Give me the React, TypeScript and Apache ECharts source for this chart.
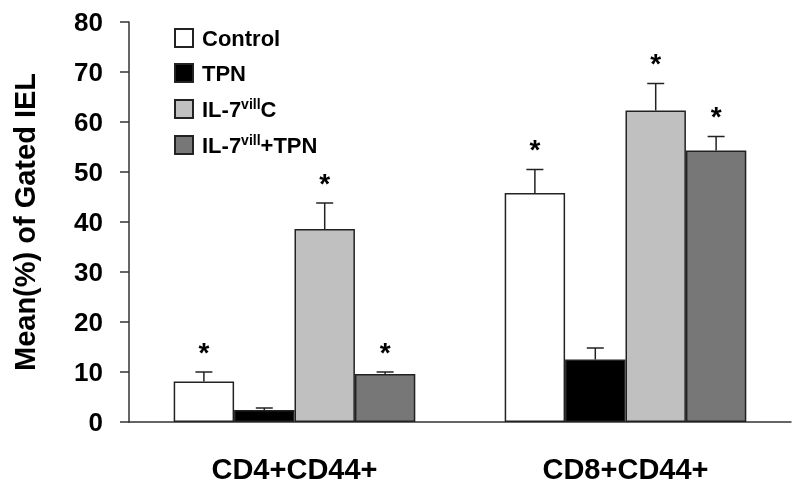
import React, { useEffect, useRef } from "react";
import * as echarts from "echarts";

const categories = ["CD4+CD44+", "CD8+CD44+"];
const seriesNames = ["Control", "TPN", "IL-7villC", "IL-7vill+TPN"];
const controlValues = [8.1, 45.8];
const tpnValues = [2.4, 12.5];
const il7cValues = [38.6, 62.3];
const il7tpnValues = [9.6, 54.3];
const controlErr = [1.9, 4.7];
const tpnErr = [0.4, 2.3];
const il7cErr = [5.2, 5.4];
const il7tpnErr = [0.4, 2.8];
const controlStar = [1, 1];
const tpnStar = [0, 0];
const il7cStar = [1, 1];
const il7tpnStar = [1, 1];
const yTicks = [0, 10, 20, 30, 40, 50, 60, 70, 80];

const colors = ["#ffffff", "#000000", "#c0c0c0", "#777777"];
const FONT = "Liberation Sans, Arial, sans-serif";
const GAP = 0.27;

export default function App() {
  const ref = useRef<HTMLDivElement>(null);
  useEffect(() => {
    if (!ref.current) return;
    const chart = echarts.init(ref.current, null, { renderer: "svg" });
    const values = [controlValues, tpnValues, il7cValues, il7tpnValues];
    const errs = [controlErr, tpnErr, il7cErr, il7tpnErr];
    const stars = [controlStar, tpnStar, il7cStar, il7tpnStar];

    const errData: number[][] = [];
    values.forEach((arr, s) => {
      arr.forEach((v, c) => {
        errData.push([c, v, errs[s][c], s, stars[s][c]]);
      });
    });

    const barSeries = seriesNames.map((name, i) => ({
      name,
      type: "bar",
      data: values[i],
      barGap: "0%",
      barCategoryGap: "27%",
      itemStyle: { color: colors[i], borderColor: "#222", borderWidth: 1.5 },
      emphasis: { disabled: true },
    }));

    const legendFmt: Record<string, string> = {
      Control: "{n|Control}",
      TPN: "{n|TPN}",
      "IL-7villC": "{n|IL-7}{s|vill}{n|C}",
      "IL-7vill+TPN": "{n|IL-7}{s|vill}{n|+TPN}",
    };

    chart.setOption({
      animation: false,
      grid: { left: 129, right: 9, top: 22, bottom: 66 },
      legend: {
        orient: "vertical",
        left: 169,
        top: 22,
        icon: "rect",
        itemWidth: 18,
        itemHeight: 18,
        itemGap: 13,
        data: seriesNames,
        selectedMode: false,
        formatter: (n: string) => legendFmt[n],
        textStyle: {
          padding: [0, 0, 0, 4],
          rich: {
            n: { fontFamily: FONT, fontWeight: "bold", fontSize: 22, color: "#000", lineHeight: 24 },
            s: { fontFamily: FONT, fontWeight: "bold", fontSize: 14, color: "#000", verticalAlign: "top", lineHeight: 24, padding: [0, 0, 6, 0] },
          },
        },
      },
      xAxis: {
        type: "category",
        data: categories,
        axisTick: { show: false },
        axisLine: { lineStyle: { color: "#333", width: 1.5 } },
        axisLabel: { fontFamily: FONT, fontWeight: "bold", fontSize: 29, color: "#000", margin: 32 },
      },
      yAxis: {
        type: "value",
        min: yTicks[0],
        max: yTicks[yTicks.length - 1],
        interval: 10,
        name: "Mean(%) of Gated IEL",
        nameLocation: "middle",
        nameGap: 90,
        nameTextStyle: { fontFamily: FONT, fontWeight: "bold", fontSize: 29, color: "#000" },
        splitLine: { show: false },
        axisLine: { show: true, lineStyle: { color: "#333", width: 1.5 } },
        axisTick: { show: true, length: 9, lineStyle: { color: "#333", width: 1.5 } },
        axisLabel: { fontFamily: FONT, fontWeight: "bold", fontSize: 26, color: "#000", margin: 26 },
      },
      series: [
        ...barSeries,
        {
          type: "custom",
          name: "err",
          data: errData,
          encode: { x: 0, y: 1 },
          z: 5,
          renderItem: (params: any, api: any) => {
            const c = api.value(0);
            const v = api.value(1);
            const e = api.value(2);
            const s = api.value(3);
            const star = api.value(4);
            const band = api.size([1, 0])[0];
            const bw = (band * (1 - GAP)) / 4;
            const p = api.coord([c, v]);
            const pt = api.coord([c, v + e]);
            const x = p[0] + (s - 1.5) * bw;
            const cap = 8.5;
            const children: any[] = [
              { type: "line", shape: { x1: x, y1: p[1], x2: x, y2: pt[1] }, style: { stroke: "#222", lineWidth: 1.5 } },
              { type: "line", shape: { x1: x - cap, y1: pt[1], x2: x + cap, y2: pt[1] }, style: { stroke: "#222", lineWidth: 1.5 } },
            ];
            if (star) {
              children.push({
                type: "text",
                x: x,
                y: pt[1] - 20,
                style: { text: "*", fontFamily: FONT, fontWeight: "bold", fontSize: 28, fill: "#000", align: "center", verticalAlign: "middle" },
              });
            }
            return { type: "group", children };
          },
        },
      ],
    });
    return () => chart.dispose();
  }, []);
  return <div ref={ref} style={{ position: "fixed", left: 0, top: 0, width: 800, height: 488 }} />;
}
